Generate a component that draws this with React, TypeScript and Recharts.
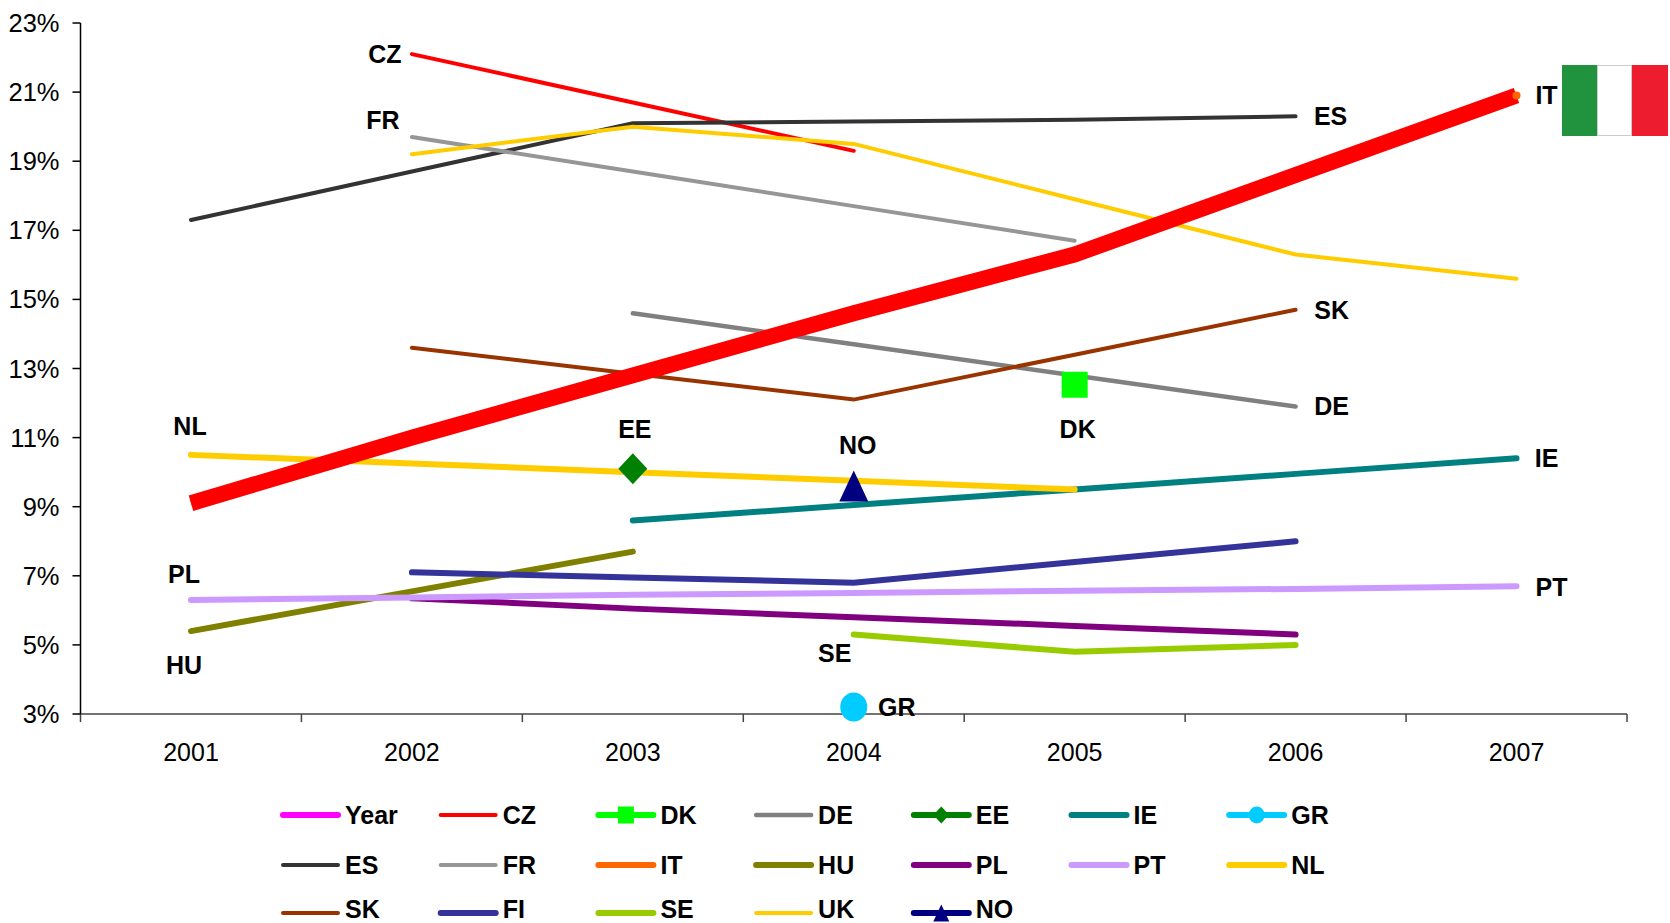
import React from 'react';
import { LineChart, Line, XAxis, YAxis, Legend, ReferenceDot } from 'recharts';

const FONT = '"Liberation Sans", Arial, sans-serif';

const years = ['2001', '2002', '2003', '2004', '2005', '2006', '2007'];
const yTicks = [3, 5, 7, 9, 11, 13, 15, 17, 19, 21, 23];
// tick marks sit between the years; this axis runs 0-6 along the plot width
const edgeTicks = [0, 1, 2, 3, 4, 5, 6, 7].map((n) => (n * 6) / 7);

const cz = [null, 22.1, 20.7, 19.3, null, null, null];
const dk = [null, null, null, null, 12.53, null, null];
const de = [null, null, 14.6, 13.7, 12.8, 11.9, null];
const ee = [null, null, 10.1, null, null, null, null];
const ie = [null, null, 8.6, 9.05, 9.5, 9.95, 10.4];
const gr = [null, null, null, 3.2, null, null, null];
const es = [17.3, 18.7, 20.1, 20.15, 20.2, 20.3, null];
const fr = [null, 19.7, 18.7, 17.7, 16.7, null, null];
const it = [9.1, 11.0, 12.8, 14.6, 16.3, 18.6, 20.9];
const hu = [5.4, 6.55, 7.7, null, null, null, null];
const pl = [null, 6.35, 6.05, 5.8, 5.55, 5.3, null];
const pt = [6.3, 6.37, 6.45, 6.5, 6.57, 6.62, 6.7];
const nl = [10.5, 10.25, 10.0, 9.75, 9.5, null, null];
const sk = [null, 13.6, 12.85, 12.1, 13.4, 14.7, null];
const fi = [null, 7.1, 6.95, 6.8, 7.4, 8.0, null];
const se = [null, null, null, 5.3, 4.8, 5.0, null];
const uk = [null, 19.2, 20.0, 19.5, 17.9, 16.3, 15.6];
const no = [null, null, null, 9.6, null, null, null];

const legendOrder = ['Year', 'CZ', 'DK', 'DE', 'EE', 'IE', 'GR', 'ES', 'FR', 'IT', 'HU', 'PL', 'PT', 'NL', 'SK', 'FI', 'SE', 'UK', 'NO'];

const chartData = years.map((year, i) => ({
  year,
  CZ: cz[i], DK: dk[i], DE: de[i], EE: ee[i], IE: ie[i], GR: gr[i], ES: es[i], FR: fr[i], IT: it[i],
  HU: hu[i], PL: pl[i], PT: pt[i], NL: nl[i], SK: sk[i], FI: fi[i], SE: se[i], UK: uk[i], NO: no[i],
  highlight: it[i],
}));

// text, year it hangs from, level in % and sideways nudge in px
const pointLabels: Array<[string, string, number, number]> = [
  ['CZ', '2002', 22.09, -27],
  ['FR', '2002', 20.18, -29],
  ['ES', '2006', 20.3, 35],
  ['IT', '2007', 20.92, 30],
  ['SK', '2006', 14.7, 36],
  ['DE', '2006', 11.92, 36],
  ['IE', '2007', 10.41, 30],
  ['PT', '2007', 6.68, 35],
  ['NL', '2001', 11.34, -1],
  ['PL', '2001', 7.05, -7],
  ['HU', '2001', 4.43, -7],
  ['EE', '2003', 11.24, 2],
  ['NO', '2004', 10.78, 4],
  ['DK', '2005', 11.24, 3],
  ['SE', '2004', 4.77, -19],
  ['GR', '2004', 3.2, 43],
];

function markerShape(kind: string, cx: number, cy: number, w: number, h: number, fill: string) {
  if (kind === 'square') return <rect x={cx - w / 2} y={cy - h / 2} width={w} height={h} fill={fill} />;
  if (kind === 'diamond') return <polygon points={`${cx},${cy - h / 2} ${cx + w / 2},${cy} ${cx},${cy + h / 2} ${cx - w / 2},${cy}`} fill={fill} />;
  if (kind === 'triangle') return <polygon points={`${cx},${cy - h / 2} ${cx + w / 2},${cy + h / 2} ${cx - w / 2},${cy + h / 2}`} fill={fill} />;
  return <ellipse cx={cx} cy={cy} rx={w / 2} ry={h / 2} fill={fill} />;
}

const dotOf = (kind: string, w: number, h: number, fill: string) => (props: any) => {
  const { cx, cy, value, index } = props;
  if (value == null || cy == null) return <g key={index} />;
  return <g key={index}>{markerShape(kind, cx, cy, w, h, fill)}</g>;
};

// the orange IT series only shows at its last point, behind the red band
const lastDot = (fill: string) => (props: any) => {
  const { cx, cy, index } = props;
  if (index !== years.length - 1) return <g key={index} />;
  return <circle key={index} cx={cx} cy={cy} r={4} fill={fill} />;
};

const legendMarkers: Record<string, string> = { DK: 'square', EE: 'diamond', GR: 'circle', NO: 'triangle' };

const ChartLegend = ({ payload }: any) => {
  const items = payload || [];
  return (
    <svg width={1670} height={149} style={{ display: 'block' }}>
      {legendOrder.map((name, i) => {
        const entry = items.find((p: any) => p.value === name);
        if (!entry) return null;
        const col = i < 14 ? i % 7 : i - 14;
        const row = Math.floor(i / 7);
        const x = 281 + col * 157.7;
        const y = [41, 91, 139][row];
        const textY = [41, 91, 135][row];
        const thick = entry.payload?.strokeWidth || 4;
        const kind = legendMarkers[name];
        return (
          <g key={name}>
            <line x1={x + 2} x2={x + 57} y1={y} y2={y} stroke={entry.color} strokeWidth={name === 'Year' ? 6 : thick} strokeLinecap="round" />
            {kind && markerShape(kind, x + 29.5, y, 16, 17, entry.color)}
            <text x={x + 64} y={textY} dominantBaseline="central" fontFamily={FONT} fontWeight="bold" fontSize={25} fill="#000">{name}</text>
          </g>
        );
      })}
    </svg>
  );
};

const pointLabel = (text: string, dx: number) => (props: any) => {
  const vb = props.viewBox || {};
  return (
    <text x={vb.x + (vb.width || 0) / 2 + dx} y={vb.y + (vb.height || 0) / 2} textAnchor="middle" dominantBaseline="central"
      fontFamily={FONT} fontWeight="bold" fontSize={25} fill="#000">{text}</text>
  );
};

export default function App() {
  const plain = (key: string, color: string, width: number) => (
    <Line key={key} dataKey={key} name={key} stroke={color} strokeWidth={width} strokeLinecap="round" dot={false} activeDot={false} isAnimationActive={false} />
  );
  const marked = (key: string, color: string, kind: string, w: number, h: number) => (
    <Line key={key} dataKey={key} name={key} stroke={color} strokeWidth={6} dot={dotOf(kind, w, h, color)} activeDot={false} isAnimationActive={false} />
  );
  return (
    <div style={{ position: 'absolute', left: 0, top: 0, width: 1670, height: 923, overflow: 'hidden', background: '#fff' }}>
      <LineChart width={1670} height={923} data={chartData} margin={{ top: 23, right: 43, bottom: 0, left: 0 }}>
        <XAxis dataKey="year" height={0.1} padding={{ left: 110.5, right: 110.5 }} axisLine={false} tickLine={false} tickMargin={23} interval={0}
          tick={{ fontFamily: FONT, fontSize: 25, fill: '#000' }} />
        <XAxis xAxisId="edges" type="number" domain={[0, 6]} ticks={edgeTicks} interval={0} tickFormatter={() => ''} tickSize={8} height={59.9} stroke="#444" strokeWidth={1.5} />
        <YAxis width={80.5} domain={[3, 23]} ticks={yTicks} interval={0} tickFormatter={(v: number) => `${v}%`} tickSize={8} tickMargin={13} stroke="#000" strokeWidth={1.5}
          tick={{ fontFamily: FONT, fontSize: 25.5, fill: '#000' }} />
        <Legend verticalAlign="bottom" height={149} content={<ChartLegend />} wrapperStyle={{ left: 0, bottom: 0, width: 1670, height: 149 }} />

        <Line dataKey="Year" name="Year" stroke="#FF00FF" strokeWidth={6} dot={false} activeDot={false} isAnimationActive={false} />
        {plain('CZ', '#FF0000', 4)}
        {plain('DE', '#808080', 4.5)}
        {plain('IE', '#008080', 6)}
        {plain('ES', '#333333', 4)}
        {plain('FR', '#969696', 4)}
        <Line dataKey="IT" name="IT" stroke="#FF6600" strokeWidth={6} dot={lastDot('#FF6600')} activeDot={false} isAnimationActive={false} />
        {plain('HU', '#808000', 6)}
        {plain('PL', '#800080', 6)}
        {plain('FI', '#333399', 6)}
        {plain('PT', '#CC99FF', 6)}
        {plain('NL', '#FFCC00', 6)}
        {plain('SK', '#993300', 4)}
        {plain('SE', '#99CC00', 6)}
        {plain('UK', '#FFCC00', 4)}
        {marked('DK', '#00FF00', 'square', 26, 26)}
        {marked('EE', '#008000', 'diamond', 29, 31)}
        {marked('GR', '#00CCFF', 'circle', 27, 29)}
        {marked('NO', '#000080', 'triangle', 29, 31)}
        <Line dataKey="highlight" legendType="none" stroke="#FF0000" strokeWidth={16} strokeLinecap="butt" strokeLinejoin="round" dot={false} activeDot={false} isAnimationActive={false} />

        {pointLabels.map(([text, year, level, dx]) => (
          <ReferenceDot key={text} x={year} y={level} r={0} fill="none" stroke="none" ifOverflow="visible" label={pointLabel(text, dx)} />
        ))}
      </LineChart>
      <div style={{ position: 'absolute', left: 1562, top: 65, width: 106, height: 71, display: 'flex' }}>
        <div style={{ width: 35, background: '#21933F' }} />
        <div style={{ width: 35, background: '#FFFFFF', boxShadow: 'inset 0 1px 0 #ccc, inset 0 -1px 0 #ccc, inset 1px 0 0 #ccc, inset -1px 0 0 #ccc' }} />
        <div style={{ width: 36, background: '#ED1C2E' }} />
      </div>
    </div>
  );
}
